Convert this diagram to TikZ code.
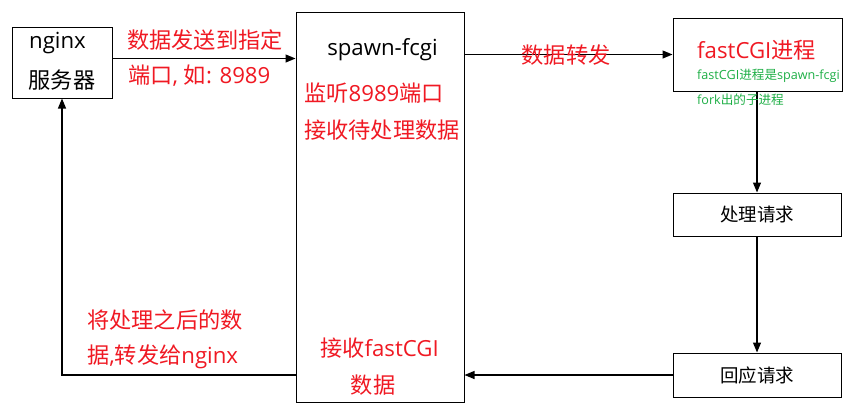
\documentclass[tikz,border=0pt]{standalone}
\usepackage{fontspec}
\setmainfont{Noto Sans CJK SC}
\newfontfamily\lat{Open Sans}
\usetikzlibrary{arrows.meta}
\definecolor{tred}{RGB}{240,25,35}
\definecolor{tgreen}{RGB}{30,175,70}
\newcommand{\la}[1]{{\lat #1}}
\begin{document}
\begin{tikzpicture}[x=1pt,y=-1pt,
  box/.style={draw=black, line width=1pt, inner sep=0pt, minimum width=#1},
  conn/.style={line width=1.2pt, -{Triangle[length=10pt,width=8pt]}},
  big/.style={text=tred, inner sep=0pt, font=\fontsize{22.2}{26}\selectfont},
  blk/.style={text=black, inner sep=0pt, font=\fontsize{22.2}{26}\selectfont},
  small/.style={text=tgreen, inner sep=0pt, font=\fontsize{12.6}{15}\selectfont},
  mid/.style={text=black, inner sep=0pt, font=\fontsize{18.5}{22}\selectfont}]
\fill[white] (0,0) rectangle (853,408);
\useasboundingbox (0,0) rectangle (853,408);

% boxes
\node[box=100pt, minimum height=71pt] (nginx) at (62,62.5) {};
\node[box=168pt, minimum height=390pt] (spawn) at (380,207) {};
\node[box=169pt, minimum height=73pt] (fast) at (757.5,54.5) {};
\node[box=168pt, minimum height=43pt] (proc) at (757,214.5) {};
\node[box=168pt, minimum height=44pt] (resp) at (757,375) {};

% connectors
\draw[conn] ([yshift=4pt]nginx.east) -- ([yshift=4pt]nginx.east -| spawn.west);
\draw[conn] (fast.west -| spawn.east) -- (fast.west);
\draw[conn] (proc.north |- fast.south) -- (proc.north);
\draw[conn] (proc.south) -- (resp.north);
\draw[conn] (resp.west) -- (resp.west -| spawn.east);
\draw[conn] (resp.west -| spawn.west) -| (nginx.south);

% texts
\node[blk] (t-nginx) at (57.5,43) {\la{nginx}};
\node[blk] (t-server) at (62,80) {服务器};
\node[big, anchor=west] (l1a) at (127,40) {数据发送到指定};
\node[big, anchor=west] (l1b) at (128,76) {端口\la{, }如\la{: 8989}};
\node[blk] (t-spawn) at (382.5,50) {\la{spawn-fcgi}};
\node[big, anchor=west] (s1) at (304,93) {监听\la{8989}端口};
\node[big, anchor=west] (s2) at (304,130) {接收待处理数据};
\node[big] (l2) at (566,55) {数据转发};
\node[big, anchor=west] (t-fast) at (697,50) {\la{fastCGI}进程};
\node[small, anchor=west] (g1) at (697,76) {\la{fastCGI}进程是\la{spawn-fcgi}};
\node[small, anchor=west] (g2) at (697,100) {\la{fork}出的子进程};
\node[mid] (t-proc) at (proc.center) {处理请求};
\node[mid] (t-resp) at (resp.center) {回应请求};
\node[big, anchor=west] (r1) at (87,320) {将处理之后的数};
\node[big, anchor=west] (r2) at (87,357) {据\la{,}转发给\la{nginx}};
\node[big, anchor=west] (k1) at (320,348) {接收\la{fastCGI}};
\node[big] (k2) at (373,385) {数据};
\end{tikzpicture}
\end{document}
